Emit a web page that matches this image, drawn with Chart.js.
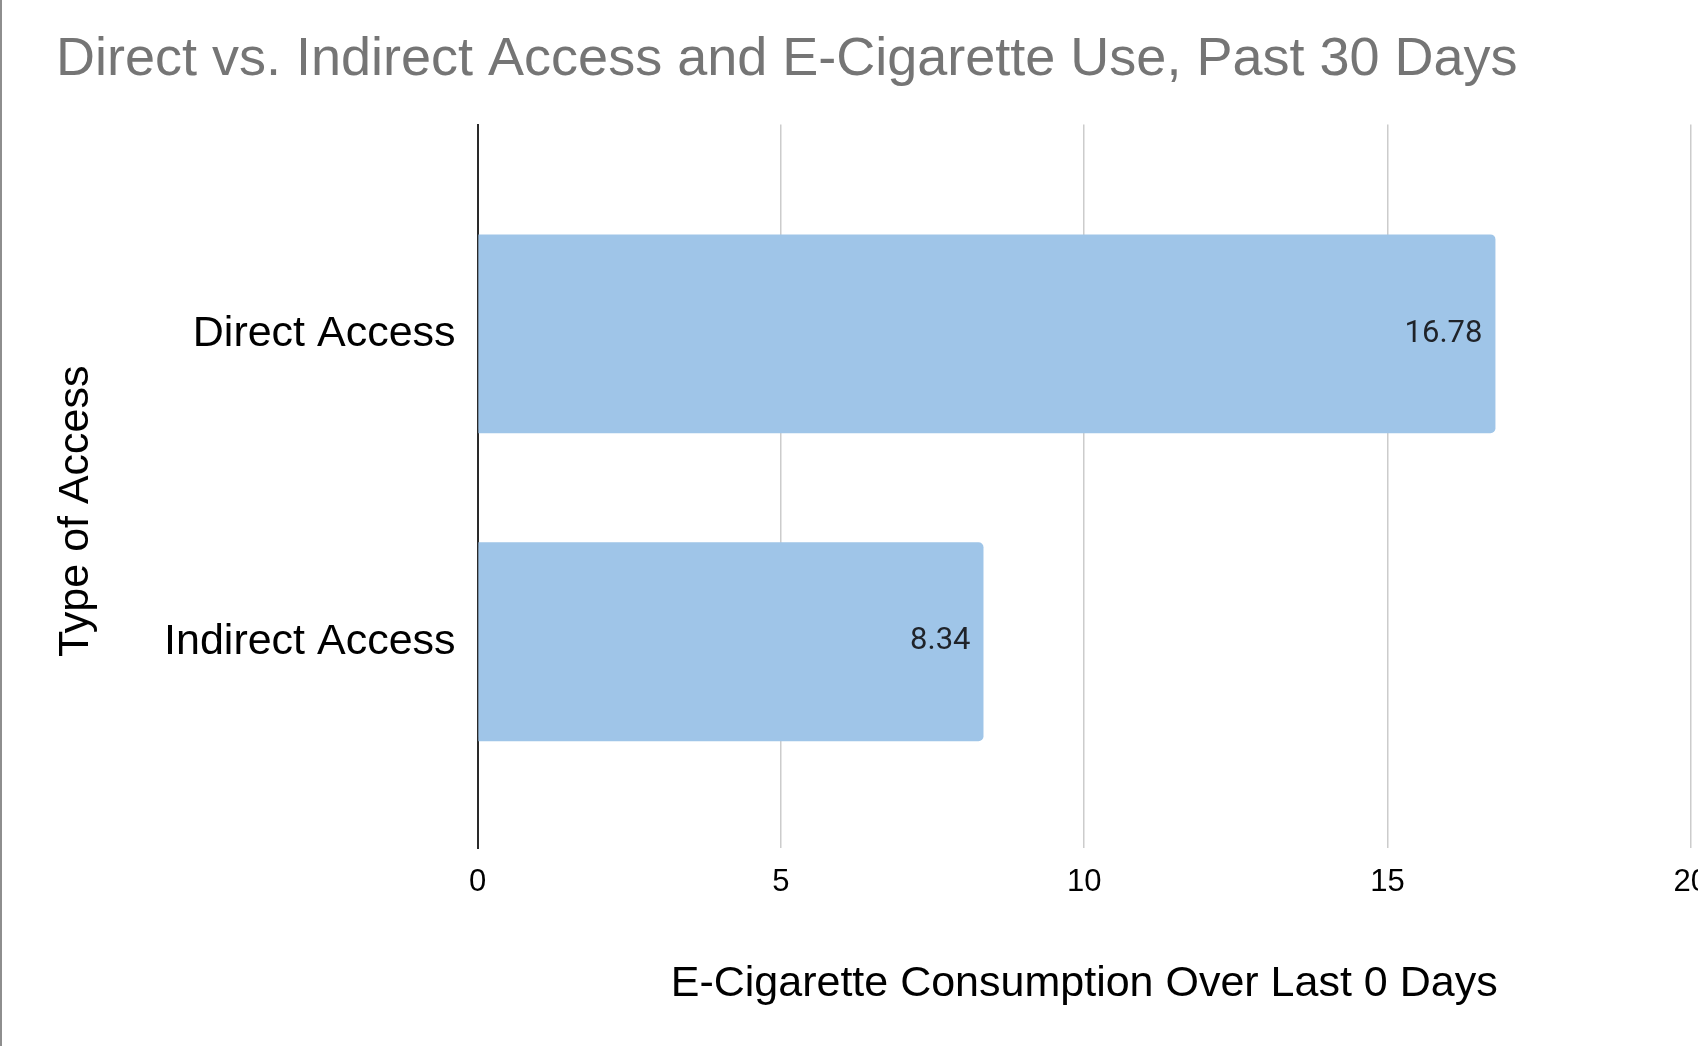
<!DOCTYPE html>
<html>
<head>
<meta charset="utf-8">
<title>Direct vs. Indirect Access and E-Cigarette Use</title>
<script src="https://cdn.jsdelivr.net/npm/chart.js@4.4.1/dist/chart.umd.min.js"></script>
<style>
  html, body { margin: 0; padding: 0; background: #ffffff; overflow: hidden; }
  #frame {
    position: absolute; left: 0; top: 0;
    width: 1698px; height: 1046px;
    box-sizing: border-box;
    border-left: 2px solid #8e8e8e;
    overflow: hidden;
  }
  #box { position: relative; width: 1722px; height: 1046px; }
</style>
</head>
<body>
<div id="frame"><div id="box"><canvas id="chart"></canvas></div></div>
<script>
// ---- data ----
const chartTitle = 'Direct vs. Indirect Access and E-Cigarette Use, Past 30 Days';
const categories = ['Direct Access', 'Indirect Access'];
const consumption = [16.78, 8.34];
const xTickValues = [0, 5, 10, 15, 20];
const xAxisTitle = 'E-Cigarette Consumption Over Last 0 Days';
const yAxisTitle = 'Type of Access';

const FONT = '"Liberation Sans", Arial, Helvetica, sans-serif';

// value printed inside the end of each bar
const barValueLabels = {
  id: 'barValueLabels',
  afterDatasetsDraw(chart) {
    const { ctx } = chart;
    const meta = chart.getDatasetMeta(0);
    ctx.save();
    ctx.font = '31px Roboto, "Noto Sans", sans-serif';
    ctx.fillStyle = '#1f2329';
    ctx.textAlign = 'right';
    ctx.textBaseline = 'middle';
    meta.data.forEach((bar, i) => {
      ctx.fillText(consumption[i].toFixed(2), bar.x - 13, bar.y);
    });
    ctx.restore();
  }
};

// rotated title of the category axis
const categoryAxisTitle = {
  id: 'categoryAxisTitle',
  afterDraw(chart) {
    const { ctx, chartArea } = chart;
    ctx.save();
    ctx.translate(74, (chartArea.top + chartArea.bottom) / 2 + 25);
    ctx.rotate(-Math.PI / 2);
    ctx.font = '43px ' + FONT;
    ctx.fillStyle = '#000000';
    ctx.textAlign = 'center';
    ctx.textBaseline = 'middle';
    ctx.fillText(yAxisTitle, 0, 0);
    ctx.restore();
  }
};

new Chart(document.getElementById('chart'), {
  type: 'bar',
  data: {
    datasets: [{
      label: xAxisTitle,
      data: consumption.map((v, i) => ({ x: v, y: i })),
      backgroundColor: '#9fc5e8',
      borderWidth: 0,
      borderRadius: 5,
      borderSkipped: 'start',
      categoryPercentage: 1,
      barPercentage: 0.646
    }]
  },
  options: {
    indexAxis: 'y',
    responsive: true,
    maintainAspectRatio: false,
    animation: false,
    layout: { padding: { left: 54, right: 30, top: 0, bottom: 0 } },
    plugins: {
      legend: { display: false },
      tooltip: { enabled: false },
      title: {
        display: true,
        text: chartTitle,
        align: 'start',
        color: '#757575',
        font: { family: FONT, size: 54, weight: 'normal' },
        padding: { top: 28, bottom: 31.7 }
      }
    },
    scales: {
      x: {
        type: 'linear',
        position: 'bottom',
        min: xTickValues[0],
        max: xTickValues[xTickValues.length - 1],
        afterBuildTicks: (scale) => { scale.ticks = xTickValues.map(v => ({ value: v })); },
        afterFit: (scale) => { scale.height = 198; },
        grid: {
          color: (c) => (c.tick && c.tick.value === 0) ? 'rgba(0,0,0,0)' : '#cccccc',
          lineWidth: 1.5,
          drawTicks: false
        },
        border: { display: false },
        ticks: {
          color: '#000000',
          font: { family: FONT, size: 31 },
          padding: 16,
          maxRotation: 0
        },
        title: {
          display: true,
          text: xAxisTitle,
          color: '#000000',
          font: { family: FONT, size: 43 },
          padding: { top: 0, bottom: 36 }
        }
      },
      y: {
        type: 'linear',
        position: 'left',
        reverse: true,
        offset: false,
        bounds: 'data',
        grace: 0,
        min: -0.68,
        max: categories.length - 1 + 0.67,
        afterBuildTicks: (scale) => { scale.ticks = categories.map((_, i) => ({ value: i })); },
        afterFit: (scale) => { scale.width = 421.6; },
        grid: { display: false, drawTicks: false, offset: false },
        border: { display: true, color: '#2a2a2a', width: 2 },
        ticks: {
          color: '#000000',
          font: { family: FONT, size: 43 },
          padding: 22,
          autoSkip: false,
          callback: (value) => categories[value]
        },
        title: { display: false }
      }
    }
  },
  plugins: [barValueLabels, categoryAxisTitle]
});
</script>
</body>
</html>
